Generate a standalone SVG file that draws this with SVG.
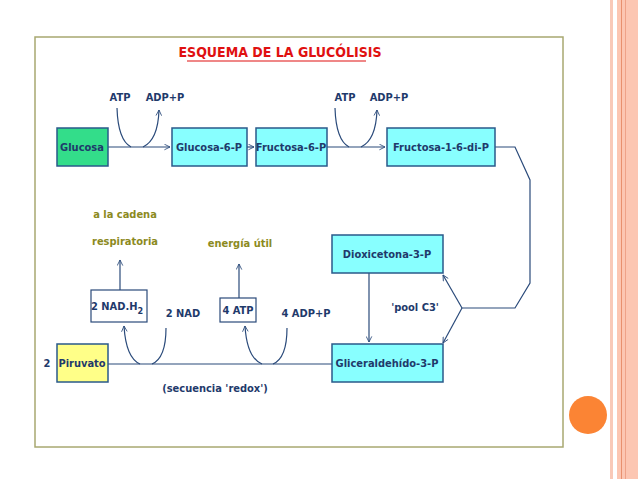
<svg xmlns="http://www.w3.org/2000/svg" width="638" height="479" viewBox="0 0 638 479">
<defs>
<marker id="a" viewBox="0 0 10 10" refX="9" refY="5" markerWidth="7" markerHeight="7" orient="auto-start-reverse" markerUnits="userSpaceOnUse"><path d="M1,1 L9,5 L1,9" fill="none" stroke="#2a4a7a" stroke-width="1.2"/></marker>
</defs>
<style>
text{font-family:"DejaVu Sans Condensed","Liberation Sans",sans-serif;font-weight:bold;font-size:11px;fill:#1f3a6b;text-anchor:middle}
.o{fill:#8c8a1e}
.b{stroke:#2a5a8a;stroke-width:1.5}
.l{fill:none;stroke:#2a4a7a;stroke-width:1.2}
</style>
<rect width="638" height="479" fill="#fff"/>
<rect x="610" y="0" width="3" height="479" fill="#f9c9b8"/>
<rect x="617" y="0" width="21" height="479" fill="#fcc6b2"/>
<rect x="621" y="0" width="1" height="479" fill="#e8906e"/>
<rect x="625" y="0" width="1" height="479" fill="#eea288"/>
<circle cx="588" cy="415" r="19" fill="#fb8434"/>
<rect x="35" y="37" width="528" height="410" fill="none" stroke="#a8a870" stroke-width="1.5"/>
<g id="title"><text x="280" y="57" style="fill:#e01010;font-size:14px">ESQUEMA DE LA GLUCÓLISIS</text><line x1="187" y1="61" x2="366" y2="61" stroke="#e01010" stroke-width="1.2"/></g>
<g id="connectors">
<path class="l" d="M108,147H170" marker-end="url(#a)"/>
<path class="l" d="M247,147H254" marker-end="url(#a)"/>
<path class="l" d="M327,147H385" marker-end="url(#a)"/>
<path class="l" d="M495,147H515L530,180V283L515,308H462"/>
<path class="l" d="M462,308L443,275" marker-end="url(#a)"/>
<path class="l" d="M462,308L443,343" marker-end="url(#a)"/>
<path class="l" d="M369,273V342" marker-end="url(#a)"/>
<path class="l" d="M108,364H332"/>
<path class="l" d="M117,108Q118,140 131,147"/>
<path class="l" d="M143,147Q158,140 159,110" marker-end="url(#a)"/>
<path class="l" d="M335,108Q336,140 349,147"/>
<path class="l" d="M361,147Q376,140 377,110" marker-end="url(#a)"/>
<path class="l" d="M166,328Q166,358 152,364"/>
<path class="l" d="M140,364Q126,358 124,326" marker-end="url(#a)"/>
<path class="l" d="M287,328Q287,358 273,364"/>
<path class="l" d="M262,364Q247,358 245,326" marker-end="url(#a)"/>
<path class="l" d="M120,290V260" marker-end="url(#a)"/>
<path class="l" d="M239,298V264" marker-end="url(#a)"/>
</g>
<g id="glucosa"><rect class="b" x="57" y="128" width="51" height="38" fill="#33dd8a"/><text x="82" y="151">Glucosa</text></g>
<g id="g6p"><rect class="b" x="172" y="128" width="75" height="38" fill="#8ff"/><text x="209" y="151">Glucosa-6-P</text></g>
<g id="f6p"><rect class="b" x="256" y="128" width="71" height="38" fill="#8ff"/><text x="291" y="151">Fructosa-6-P</text></g>
<g id="f16p"><rect class="b" x="387" y="128" width="108" height="38" fill="#8ff"/><text x="441" y="151">Fructosa-1-6-di-P</text></g>
<g id="dioxi"><rect class="b" x="332" y="235" width="111" height="38" fill="#8ff"/><text x="387" y="258">Dioxicetona-3-P</text></g>
<g id="glicer"><rect class="b" x="332" y="344" width="111" height="38" fill="#8ff"/><text x="387" y="367">Gliceraldehído-3-P</text></g>
<g id="piruvato"><rect class="b" x="57" y="344" width="51" height="38" fill="#ffff88"/><text x="82" y="367">Piruvato</text><text x="47" y="367">2</text></g>
<g id="nadh"><rect x="91" y="290" width="56" height="32" fill="#fff" stroke="#2a4a7a" stroke-width="1.2"/><text x="117" y="310">2 NAD.H<tspan font-size="9" dy="4">2</tspan></text></g>
<g id="atp4"><rect x="220" y="298" width="36" height="24" fill="#fff" stroke="#2a4a7a" stroke-width="1.2"/><text x="238" y="314">4 ATP</text></g>
<g id="labels">
<text x="120" y="101">ATP</text><text x="165" y="101">ADP+P</text>
<text x="345" y="101">ATP</text><text x="389" y="101">ADP+P</text>
<text x="183" y="317">2 NAD</text><text x="306" y="317">4 ADP+P</text>
<text x="415" y="311">'pool C3'</text>
<text x="215" y="392">(secuencia 'redox')</text>
<text class="o" x="125" y="218">a la cadena</text><text class="o" x="125" y="245">respiratoria</text>
<text class="o" x="240" y="247">energía útil</text>
</g>
</svg>
